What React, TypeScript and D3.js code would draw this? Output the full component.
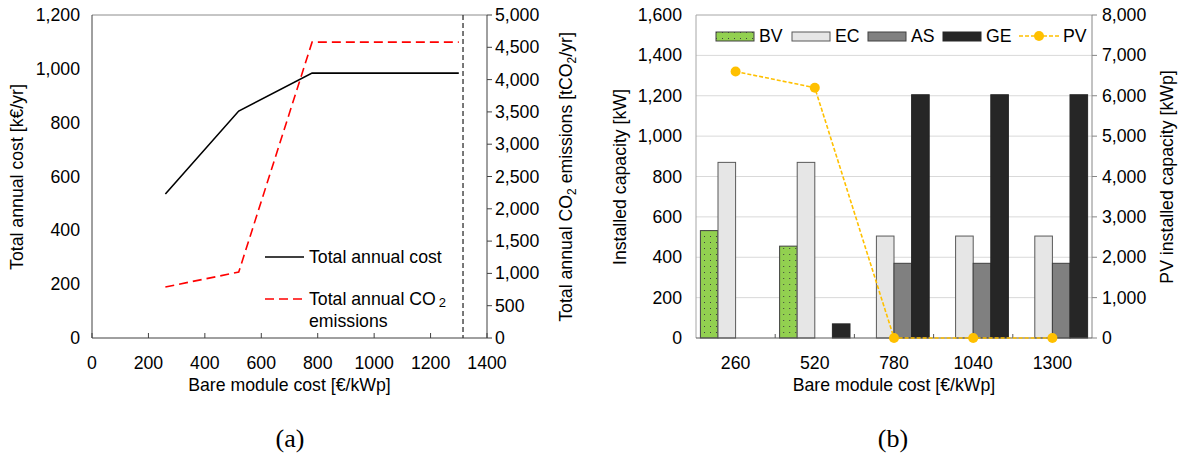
import React from 'react';
import * as d3 from 'd3';

// panel (a)
const moduleCost = [260, 520, 780, 1040, 1300];
const annualCost = [535, 843, 984, 984, 984];
const annualCO2 = [790, 1020, 4580, 4580, 4580];
const costTicks = [0, 200, 400, 600, 800, 1000, 1200];
const co2Ticks = [0, 500, 1000, 1500, 2000, 2500, 3000, 3500, 4000, 4500, 5000];
const xTicksA = [0, 200, 400, 600, 800, 1000, 1200, 1400];
const limitCost = 1315;

// panel (b)
const categories = ['260', '520', '780', '1040', '1300'];
const seriesNames = ['BV', 'EC', 'AS', 'GE'];
const bvValues = [532, 455, 0, 0, 0];
const ecValues = [870, 870, 505, 505, 505];
const asValues = [0, 0, 370, 370, 370];
const geValues = [0, 70, 1205, 1205, 1205];
const pvValues = [6600, 6200, 0, 0, 0];
const capTicks = [0, 200, 400, 600, 800, 1000, 1200, 1400, 1600];
const pvTicks = [0, 1000, 2000, 3000, 4000, 5000, 6000, 7000, 8000];

const FONT = '"Liberation Sans", Arial, sans-serif';
const FS = 17.7;
const fmt = d3.format(',');

const top = 15;
const bottom = 338;

const PanelA = () => {
  const x = d3.scaleLinear().domain([0, 1400]).range([92, 487]);
  const yL = d3.scaleLinear().domain([0, 1200]).range([bottom, top]);
  const yR = d3.scaleLinear().domain([0, 5000]).range([bottom, top]);
  const costLine = d3.line<number>().x((_, i) => x(moduleCost[i])).y(d => yL(d));
  const co2Line = d3.line<number>().x((_, i) => x(moduleCost[i])).y(d => yR(d));
  const [x0, x1] = x.range();
  return (
    <g fontFamily={FONT} fontSize={FS} fill="#000">
      <line x1={x0} x2={x1} y1={top} y2={top} stroke="#8c8c8c" />
      <line x1={x0} x2={x0} y1={top} y2={bottom} stroke="#404040" />
      <line x1={x1} x2={x1} y1={top} y2={bottom} stroke="#404040" />
      <line x1={x0} x2={x1} y1={bottom} y2={bottom} stroke="#404040" />
      {xTicksA.map(t => (
        <g key={t}>
          <line x1={x(t)} x2={x(t)} y1={bottom} y2={bottom - 5} stroke="#404040" />
          <text x={x(t)} y={369} textAnchor="middle">{t}</text>
        </g>
      ))}
      {costTicks.map(t => (
        <text key={t} x={80} y={yL(t) + 6} textAnchor="end">{fmt(t)}</text>
      ))}
      {co2Ticks.map(t => (
        <g key={t}>
          <line x1={x1} x2={x1 + 5} y1={yR(t)} y2={yR(t)} stroke="#404040" />
          <text x={x1 + 8} y={yR(t) + 6}>{fmt(t)}</text>
        </g>
      ))}
      <line x1={x(limitCost)} x2={x(limitCost)} y1={top} y2={bottom}
        stroke="#303030" strokeWidth={1.3} strokeDasharray="5,3" />
      <path d={costLine(annualCost) || ''} fill="none" stroke="#000" strokeWidth={1.6} />
      <path d={co2Line(annualCO2) || ''} fill="none" stroke="#ff0000" strokeWidth={1.6} strokeDasharray="9,5" />
      {/* legend */}
      <line x1={265} x2={304} y1={257} y2={257} stroke="#000" strokeWidth={1.6} />
      <text x={309} y={263}>Total annual cost</text>
      <line x1={265} x2={304} y1={299} y2={299} stroke="#ff0000" strokeWidth={1.6} strokeDasharray="9,5" />
      <text x={309} y={305}>Total annual CO<tspan fontSize={13} dx={3} dy={2}>2</tspan></text>
      <text x={309} y={327}>emissions</text>
      <text x={x(700)} y={391} textAnchor="middle">Bare module cost [€/kWp]</text>
      <text transform={`translate(23,177) rotate(-90)`} textAnchor="middle">Total annual cost [k€/yr]</text>
      <text transform={`translate(572,177) rotate(-90)`} textAnchor="middle">
        Total annual CO<tspan fontSize={12} dy={4}>2</tspan><tspan dy={-4}> emissions [tCO</tspan><tspan fontSize={12} dy={4}>2</tspan><tspan dy={-4}>/yr]</tspan>
      </text>
      <text x={290} y={447} textAnchor="middle" fontFamily='"Liberation Serif", "Times New Roman", serif' fontSize={26}>(a)</text>
    </g>
  );
};

const fills: Record<string, string> = { BV: 'url(#dots)', EC: '#e6e6e6', AS: '#808080', GE: '#262626' };
const strokes: Record<string, string> = { BV: '#404040', EC: '#595959', AS: '#404040', GE: '#262626' };

const PanelB = () => {
  const x = d3.scaleBand().domain(categories).range([696, 1092]);
  const inner = d3.scaleBand().domain(seriesNames).range([0, x.bandwidth()]).paddingOuter(0.25);
  const yL = d3.scaleLinear().domain([0, 1600]).range([bottom, top]);
  const yR = d3.scaleLinear().domain([0, 8000]).range([bottom, top]);
  const data: Record<string, number[]> = { BV: bvValues, EC: ecValues, AS: asValues, GE: geValues };
  const [x0, x1] = x.range();
  const cx = (c: string) => (x(c) || 0) + x.bandwidth() / 2;
  const pvLine = d3.line<number>().x((_, i) => cx(categories[i])).y(d => yR(d));
  const legendItems = [
    { name: 'BV', x: 716 }, { name: 'EC', x: 792 }, { name: 'AS', x: 868 }, { name: 'GE', x: 943 },
  ];
  return (
    <g fontFamily={FONT} fontSize={FS} fill="#000">
      <defs>
        <pattern id="dots" width={6} height={6} patternUnits="userSpaceOnUse">
          <rect width={6} height={6} fill="#92d050" />
          <rect x={2} y={2} width={1} height={1} fill="#404040" />
        </pattern>
      </defs>
      {capTicks.map(t => (
        <g key={t}>
          {t > 0 && <line x1={x0} x2={x1} y1={yL(t)} y2={yL(t)} stroke={t === 1600 ? '#a6a6a6' : '#d9d9d9'} />}
          <text x={682} y={yL(t) + 6} textAnchor="end">{fmt(t)}</text>
        </g>
      ))}
      <line x1={x0} x2={x0} y1={top} y2={bottom} stroke="#a6a6a6" />
      <line x1={x1} x2={x1} y1={top} y2={bottom} stroke="#868686" />
      {pvTicks.map(t => (
        <g key={t}>
          <line x1={x1} x2={x1 + 5} y1={yR(t)} y2={yR(t)} stroke="#868686" />
          <text x={x1 + 10} y={yR(t) + 6}>{fmt(t)}</text>
        </g>
      ))}
      {categories.map((c, ci) => (
        <g key={c} transform={`translate(${x(c)},0)`}>
          {seriesNames.map(s => data[s][ci] > 0 && (
            <rect key={s} x={inner(s)} y={yL(data[s][ci])} width={inner.bandwidth()}
              height={bottom - yL(data[s][ci])} fill={fills[s]} stroke={strokes[s]} strokeWidth={1} />
          ))}
        </g>
      ))}
      <line x1={x0} x2={x1} y1={bottom} y2={bottom} stroke="#595959" />
      {categories.map((c, i) => (
        <g key={c}>
          {i > 0 && <line x1={x(c)} x2={x(c)} y1={bottom} y2={bottom - 4} stroke="#595959" />}
          <text x={cx(c)} y={369} textAnchor="middle">{c}</text>
        </g>
      ))}
      <path d={pvLine(pvValues) || ''} fill="none" stroke="#ffc000" strokeWidth={1.6} strokeDasharray="4,2" />
      {pvValues.map((v, i) => (
        <circle key={i} cx={cx(categories[i])} cy={yR(v)} r={5} fill="#ffc000" />
      ))}
      {/* legend */}
      {legendItems.map(l => (
        <g key={l.name}>
          <rect x={l.x} y={32} width={38} height={9} fill={fills[l.name]} stroke={strokes[l.name]} />
          <text x={l.x + 43} y={42}>{l.name}</text>
        </g>
      ))}
      <line x1={1019} x2={1060} y1={36} y2={36} stroke="#ffc000" strokeWidth={1.5} strokeDasharray="4,2" />
      <circle cx={1039} cy={36} r={5} fill="#ffc000" />
      <text x={1063} y={42}>PV</text>
      <text x={894} y={391} textAnchor="middle">Bare module cost [€/kWp]</text>
      <text transform={`translate(626,177) rotate(-90)`} textAnchor="middle">Installed capacity [kW]</text>
      <text transform={`translate(1173,177) rotate(-90)`} textAnchor="middle">PV installed capacity [kWp]</text>
      <text x={893} y={447} textAnchor="middle" fontFamily='"Liberation Serif", "Times New Roman", serif' fontSize={26}>(b)</text>
    </g>
  );
};

export default function App() {
  return (
    <svg width={1186} height={457} style={{ position: 'absolute', left: 0, top: 0, background: '#fff' }}>
      <PanelA />
      <PanelB />
    </svg>
  );
}
